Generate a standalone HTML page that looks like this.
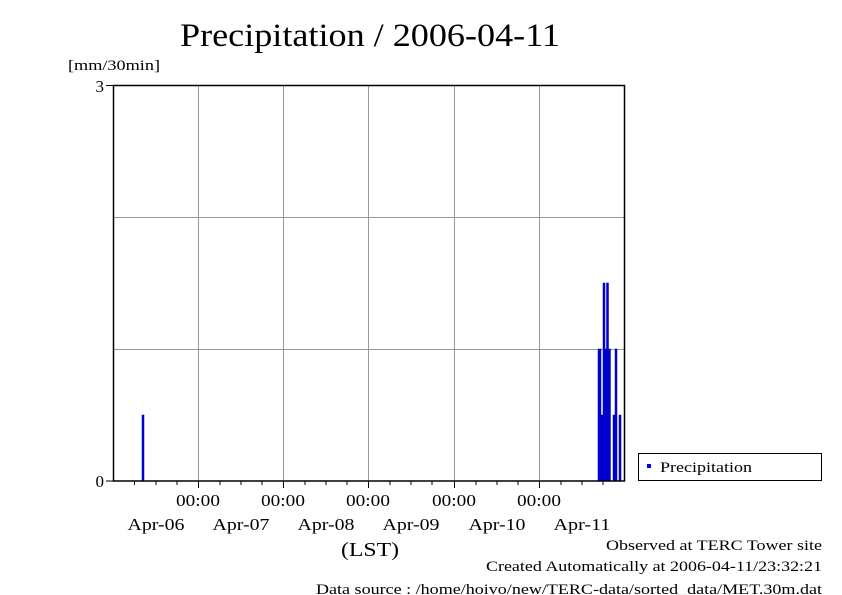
<!DOCTYPE html>
<html><head><meta charset="utf-8"><style>
body{margin:0;background:#fff;}
svg{display:block;font-family:"Liberation Serif",serif;}
</style></head><body>
<svg width="842" height="595" xmlns="http://www.w3.org/2000/svg">
<rect width="842" height="595" fill="#fff"/>
<text x="180" y="46" font-size="33" textLength="380" lengthAdjust="spacingAndGlyphs">Precipitation / 2006-04-11</text>
<text x="68" y="70" font-size="15" textLength="92" lengthAdjust="spacingAndGlyphs">[mm/30min]</text>
<g stroke="#999" stroke-width="1">
<line x1="113" y1="217.5" x2="625" y2="217.5"/>
<line x1="113" y1="349.5" x2="625" y2="349.5"/>
<line x1="198.5" y1="85" x2="198.5" y2="481"/>
<line x1="283.5" y1="85" x2="283.5" y2="481"/>
<line x1="368.5" y1="85" x2="368.5" y2="481"/>
<line x1="454.5" y1="85" x2="454.5" y2="481"/>
<line x1="539.5" y1="85" x2="539.5" y2="481"/>
</g>
<g fill="#0000ee" stroke="#000088" stroke-width="0.5">
<rect x="142" y="415" width="2" height="66"/>
<rect x="598" y="349" width="3" height="132"/>
<rect x="601" y="415" width="2" height="66"/>
<rect x="603" y="283" width="2" height="198"/>
<rect x="605" y="349" width="1.5" height="132"/>
<rect x="606.5" y="283" width="2" height="198"/>
<rect x="608.5" y="349" width="2" height="132"/>
<rect x="613" y="415" width="2" height="66"/>
<rect x="615" y="349" width="2" height="132"/>
<rect x="619" y="415" width="2" height="66"/>
</g>
<rect x="113.5" y="85.5" width="511" height="395.5" fill="none" stroke="#000" stroke-width="1.5"/>
<g stroke="#000" stroke-width="1">
<line x1="106" y1="85.5" x2="113" y2="85.5"/>
<line x1="106" y1="481" x2="113" y2="481"/>
<line x1="134.5" y1="481" x2="134.5" y2="485"/>
<line x1="156" y1="481" x2="156" y2="485"/>
<line x1="177" y1="481" x2="177" y2="485"/>
<line x1="198.5" y1="481" x2="198.5" y2="488"/>
<line x1="220" y1="481" x2="220" y2="485"/>
<line x1="241" y1="481" x2="241" y2="485"/>
<line x1="262" y1="481" x2="262" y2="485"/>
<line x1="283.5" y1="481" x2="283.5" y2="488"/>
<line x1="305" y1="481" x2="305" y2="485"/>
<line x1="326" y1="481" x2="326" y2="485"/>
<line x1="347" y1="481" x2="347" y2="485"/>
<line x1="368.5" y1="481" x2="368.5" y2="488"/>
<line x1="390" y1="481" x2="390" y2="485"/>
<line x1="411" y1="481" x2="411" y2="485"/>
<line x1="432" y1="481" x2="432" y2="485"/>
<line x1="454.5" y1="481" x2="454.5" y2="488"/>
<line x1="476" y1="481" x2="476" y2="485"/>
<line x1="497" y1="481" x2="497" y2="485"/>
<line x1="518" y1="481" x2="518" y2="485"/>
<line x1="539.5" y1="481" x2="539.5" y2="488"/>
<line x1="561" y1="481" x2="561" y2="485"/>
<line x1="582" y1="481" x2="582" y2="485"/>
<line x1="603" y1="481" x2="603" y2="485"/>
</g>
<g font-size="17" text-anchor="end">
<text x="104" y="92">3</text>
<text x="104" y="487">0</text>
</g>
<g font-size="17" text-anchor="middle" lengthAdjust="spacingAndGlyphs">
<text x="198" y="506" textLength="44" lengthAdjust="spacingAndGlyphs">00:00</text>
<text x="283" y="506" textLength="44" lengthAdjust="spacingAndGlyphs">00:00</text>
<text x="368" y="506" textLength="44" lengthAdjust="spacingAndGlyphs">00:00</text>
<text x="454" y="506" textLength="44" lengthAdjust="spacingAndGlyphs">00:00</text>
<text x="539" y="506" textLength="44" lengthAdjust="spacingAndGlyphs">00:00</text>
<text x="156" y="530" textLength="57" lengthAdjust="spacingAndGlyphs">Apr-06</text>
<text x="241" y="530" textLength="57" lengthAdjust="spacingAndGlyphs">Apr-07</text>
<text x="326" y="530" textLength="57" lengthAdjust="spacingAndGlyphs">Apr-08</text>
<text x="411" y="530" textLength="57" lengthAdjust="spacingAndGlyphs">Apr-09</text>
<text x="497" y="530" textLength="57" lengthAdjust="spacingAndGlyphs">Apr-10</text>
<text x="582" y="530" textLength="57" lengthAdjust="spacingAndGlyphs">Apr-11</text>
<text x="370" y="556" font-size="20" textLength="58" lengthAdjust="spacingAndGlyphs">(LST)</text>
</g>
<rect x="638.5" y="453.5" width="183" height="27" fill="#fff" stroke="#000" stroke-width="1"/>
<rect x="647" y="464" width="4" height="4" fill="#0000ee"/>
<text x="660" y="472" font-size="15" textLength="92" lengthAdjust="spacingAndGlyphs">Precipitation</text>
<g font-size="15">
<text x="606" y="550" textLength="216" lengthAdjust="spacingAndGlyphs">Observed at TERC Tower site</text>
<text x="486" y="571" textLength="336" lengthAdjust="spacingAndGlyphs">Created Automatically at 2006-04-11/23:32:21</text>
<text x="316" y="594" textLength="506" lengthAdjust="spacingAndGlyphs">Data source : /home/hoivo/new/TERC-data/sorted_data/MET.30m.dat</text>
</g>
</svg>
</body></html>
